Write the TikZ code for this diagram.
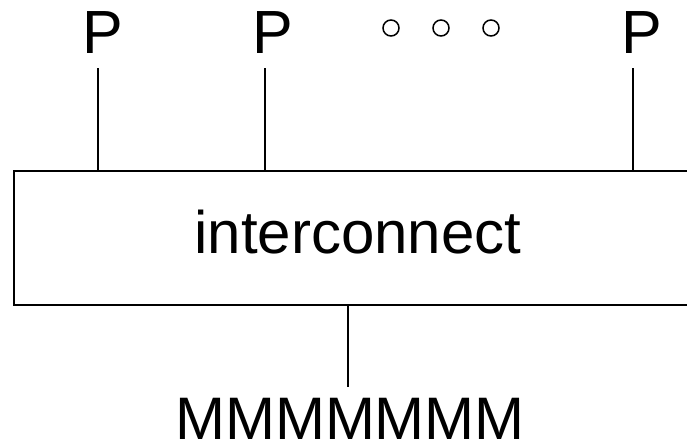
\documentclass[tikz,border=0pt]{standalone}
\usepackage{fontspec}
\setmainfont{Liberation Sans}
\begin{document}
\begin{tikzpicture}[x=1pt,y=-1pt,
  lbl/.style={inner sep=0pt, anchor=base, font=\fontsize{61}{61}\selectfont},
  wire/.style={line width=1.3pt},
  boxst/.style={draw, line width=1.6pt, rectangle, inner sep=0pt},
  dot/.style={draw, circle, line width=1.5pt, minimum size=16pt, inner sep=0pt}]
\useasboundingbox (0,0) rectangle (687,445);
\clip (0,0) rectangle (687,445);
\node[boxst, minimum width=690pt, minimum height=134pt, anchor=north west] (ic) at (13,170) {};
\node[lbl, font=\fontsize{60}{60}\selectfont] (ict) at (358,253) {interconnect};
\node[lbl] (p1) at (103,53) {P};
\node[lbl] (p2) at (273,53) {P};
\node[lbl] (p3) at (642,53) {P};
\coordinate (t1) at (98,68);
\coordinate (t2) at (265,68);
\coordinate (t3) at (633,68);
\draw[wire] (t1) -- (t1 |- ic.north);
\draw[wire] (t2) -- (t2 |- ic.north);
\draw[wire] (t3) -- (t3 |- ic.north);
\node[dot] (c1) at (391,28) {};
\node[dot] (c2) at (441,28) {};
\node[dot] (c3) at (491,28) {};
\node[lbl, font=\fontsize{60}{60}\selectfont] (mem) at (350,439) {MMMMMMM};
\coordinate (b1) at (348,387);
\draw[wire] (b1 |- ic.south) -- (b1);
\end{tikzpicture}
\end{document}
